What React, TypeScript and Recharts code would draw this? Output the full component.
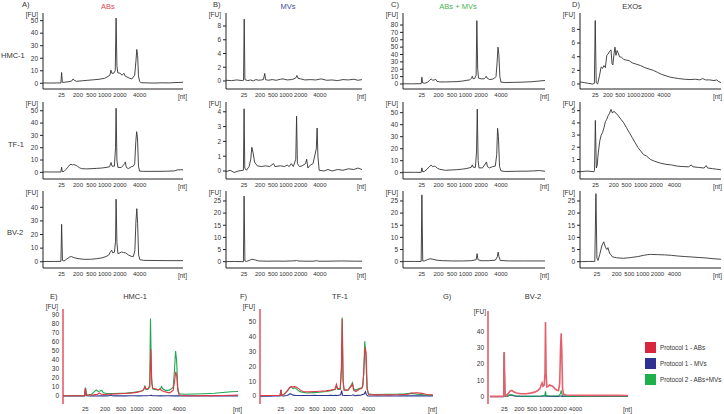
import React from "react"
import { LineChart, Line, XAxis, YAxis } from "recharts"

type Pt = [number, number]

// size ladder labels and where they sit on the migration-time axis (0..100 per panel)
const NT_LABELS = ["25", "200", "500", "1000", "2000", "4000"]
const NT_TICKS = [13.3, 25, 34.5, 44, 55, 69]
const D1_TICKS = [10.8, 19.8, 28.5, 38, 48, 59.5]
const D2_TICKS = [11, 24, 33, 43, 54, 67]
const D3_TICKS = [12, 26, 35, 44.5, 55, 67]
const G_TICKS = [13.5, 27.5, 39.5, 52.5, 66, 80.5]

const FU_50 = [0, 10, 20, 30, 40, 50]
const FU_8 = [0, 2, 4, 6, 8]
const FU_80 = [0, 10, 20, 30, 40, 50, 60, 70, 80]
const FU_4 = [0, 1, 2, 3, 4]
const FU_5 = [0, 1, 2, 3, 4, 5]
const FU_40 = [0, 10, 20, 30, 40]
const FU_25 = [0, 5, 10, 15, 20, 25]
const FU_90 = [0, 10, 20, 30, 40, 50, 60, 70, 80, 90]

// HMC-1
const ABS_HMC1: Pt[] = [[0,0.3],[5,0.2],[10,0.3],[12.8,0.3],[13.3,8.6],[13.8,0.8],[15,0.8],[18,1.2],[20.5,1.8],[21.5,3.5],[22.5,2.2],[24,1.6],[28,2],[32,2.4],[36,2.8],[40,3.2],[44,4],[46.5,5.5],[47.8,6.5],[48.5,10.5],[49.2,8],[50.5,8],[51.6,10],[52.2,52],[52.8,14],[53.4,8.5],[55,8],[56.5,6.5],[57.8,8],[58.5,6],[60,5],[62,4],[63.5,3.5],[64.5,5],[65.5,6.5],[66.4,18],[67,27],[67.6,22],[68.2,6],[69,1.5],[70,0.5],[75,0.3],[80,0.2],[85,0.4],[90,0.3],[95,0.6],[100,0.8],[104,1]]
const MVS_HMC1: Pt[] = [[0,0.1],[4,0.05],[8,0.15],[12,0.05],[12.9,0.1],[13.4,9],[13.9,0.2],[16,0.05],[18,0.15],[20,0],[22,0.2],[24,0.1],[26,0.15],[27.5,0.2],[28.5,1.1],[29.1,0.2],[31,0.1],[34,0.2],[37,0.1],[40,0.25],[42,0.3],[45,0.15],[48,0.2],[50,0.3],[51.6,0.5],[52.2,0.8],[52.9,0.4],[55,0.3],[58,0.15],[62,0.2],[66,0.15],[70,0.3],[74,0.1],[78,0.15],[82,0.05],[86,0.2],[90,0.15],[94,0.25],[97,0.1],[100,0.2],[104,0.1]]
const ABMV_HMC1: Pt[] = [[0,0.3],[6,0.2],[12.8,0.4],[13.3,9.2],[13.8,1.5],[15,1],[17,2],[18.5,4.5],[19.8,6.8],[21,5],[22,5.5],[23.1,6.2],[24,3.5],[26,2.8],[30,2.8],[34,3],[38,3.2],[42,4],[45,5],[47,5.5],[48.3,8],[48.8,10.5],[49.4,7],[50.5,7.5],[51.5,12],[52,86],[52.6,20],[53.2,8],[55,7],[57,7],[58.2,9],[58.6,10.5],[59.2,8],[61,6],[63,6.5],[64.5,8],[65.5,10],[66.3,30],[66.9,50],[67.5,40],[68.2,10],[69,2.5],[72,2],[78,2.2],[84,2.5],[90,3],[95,3.8],[100,4.8],[104,5]]
const EXO_HMC1: Pt[] = [[0,0.3],[3,0.2],[6,0.1],[9,0],[10.2,0.1],[10.8,9.3],[11.5,0.2],[12.5,0],[13.8,1.2],[15,2.5],[16,2.3],[17,2.7],[18,2.4],[19,4.2],[20,4.4],[21,4.8],[22,5],[22.7,3],[23.3,2.8],[24,4.2],[24.8,5.4],[25.5,4.2],[26.3,4.9],[27,4.6],[28,4],[29.5,3.9],[31,3.6],[33,3.5],[35,3.4],[37,3.1],[40,2.9],[43,2.7],[46,2.4],[49,2.2],[52,2],[55,1.7],[58,1.4],[61,1.2],[64,1],[67,0.9],[70,0.8],[74,0.7],[78,0.65],[82,0.7],[85,0.6],[87,0.8],[89,0.6],[92,0.6],[95,0.5],[97,0.6],[98,0.4],[100,0.2]]

// TF-1
const ABS_TF1: Pt[] = [[0,0.3],[8,0.3],[12.8,0.3],[13.3,4.2],[13.8,0.5],[15,0.8],[16.5,2.5],[18,4.5],[19,6],[20,6.5],[21,6],[22,6.3],[23,6],[24.5,5],[26,3.8],[27.5,3],[31,2.8],[35,3],[38,3.2],[42,3.5],[45,4],[47.5,4.5],[48.6,8],[49.3,5],[51,5],[51.8,20],[52.2,52],[52.8,10],[53.5,4],[56,4],[58.3,7],[58.8,8.5],[59.5,4],[61,3],[63,4.5],[64.5,5],[65.5,7],[66.3,25],[66.9,33],[67.5,28],[68.2,5],[69,1],[72,0.8],[80,0.8],[88,0.9],[94,1.2],[96,2],[100,2.1],[103,1.8],[106,1],[110,0.8]]
const MVS_TF1: Pt[] = [[0,-0.05],[3,0.05],[6,-0.1],[9,0],[12.8,0.05],[13.3,4.2],[13.8,0.2],[15,0.05],[17,0.3],[18.2,0.8],[19,1.6],[20,1.2],[21,0.6],[23,0.35],[26,0.3],[29,0.35],[32,0.3],[35,0.5],[36,0.3],[40,0.35],[43,0.3],[45,0.4],[46.5,0.3],[48,0.5],[49.5,0.3],[51.3,0.8],[51.9,3.7],[52.5,0.5],[54,0.3],[56,0.35],[58.5,0.5],[59.3,0.8],[60.2,0.2],[62,0.4],[64,0.5],[66.4,1.5],[67,2.9],[67.6,1],[68.5,0.05],[72,0],[75,0.1],[78,0],[82,0.1],[86,0.05],[90,0.15],[94,0.1],[97,0.2],[100,0.1],[105,0.1],[110,0.1]]
const ABMV_TF1: Pt[] = [[0,0.3],[8,0.3],[12.8,0.3],[13.3,4],[13.8,0.8],[15,1],[17,3],[18.5,5],[19.8,6.3],[21,5],[22,5.5],[23,5],[24.5,3.5],[26,2.8],[30,2],[34,2.3],[38,2.5],[42,3],[45,3.5],[48,4.5],[48.8,6.5],[49.5,4.5],[51,4.5],[51.8,18],[52.3,53],[52.9,10],[53.5,4],[56,4],[58.3,8],[58.8,9],[59.5,5],[61,4],[63,5],[65,5.5],[66,15],[66.6,37],[67.2,30],[68,5],[69,1.5],[72,1],[80,1.2],[88,1.3],[92,1.5],[96,1.8],[100,1.2],[104,0.8],[110,0.5]]
const EXO_TF1: Pt[] = [[0,0],[5,0.05],[10,0],[10.3,0.1],[10.9,4.2],[11.6,0.3],[12.2,0.5],[13,1.6],[14,2.5],[15,3],[16,3.2],[17,3.6],[18,4.1],[19,4.3],[20,4.6],[21,4.8],[22,5.1],[23,4.8],[24,4.95],[25.5,4.8],[27,4.6],[29,4.3],[31,4],[33,3.6],[35,3.2],[37,2.8],[39,2.4],[41,2],[43,1.7],[45,1.4],[47,1.3],[50,1],[53,0.85],[57,0.7],[61,0.6],[65,0.55],[69,0.45],[73,0.42],[77,0.4],[79,0.55],[80,0.4],[84,0.35],[88,0.3],[89.5,0.5],[90.5,0.3],[94,0.25],[97,0.2],[100,0.15]]

// BV-2
const ABS_BV2: Pt[] = [[0,0.2],[8,0.2],[12.8,0.3],[13.3,27.5],[13.9,1],[15,0.5],[17,2],[19,3.5],[20.5,3.8],[22,3],[25,2.3],[29,1.8],[34,1.8],[38,2.2],[42,2.8],[45,3.8],[47,5],[48.3,7.5],[49,8.5],[49.8,6.5],[51,7],[51.8,15],[52.2,46],[52.8,14],[53.5,6],[55,6.5],[56,7.2],[57.5,6.8],[59,6.5],[61,5],[63,4],[64.5,3.8],[65.6,8],[66.4,30],[67,39],[67.6,28],[68.3,5],[69.2,1.5],[72,1],[80,0.9],[90,0.8],[100,0.8],[110,0.9],[120,0.8],[130,0.7]]
const MVS_BV2: Pt[] = [[0,0],[6,0.1],[12.8,0],[13.3,27],[13.9,0.3],[15,0.1],[17,0.5],[19,1],[21,0.8],[24,0.3],[30,0.2],[36,0.25],[42,0.2],[48,0.3],[51.5,0.4],[52,0.7],[52.6,0.3],[58,0.2],[64,0.2],[66.5,0.4],[67,0.5],[67.6,0.2],[75,0.2],[85,0.3],[95,0.2],[100,0.2],[115,0.2],[130,0.2]]
const ABMV_BV2: Pt[] = [[0,0.1],[8,0.1],[12.8,0.1],[13.3,27.5],[13.9,0.3],[15,0.3],[17,0.8],[19,1.2],[21,1],[24,0.6],[28,0.4],[35,0.3],[42,0.3],[48,0.4],[51.5,0.8],[52.2,3.3],[52.8,0.8],[55,0.4],[60,0.4],[65,0.6],[66.4,2],[67,3.9],[67.6,2],[68.5,0.5],[75,0.3],[85,0.3],[95,0.3],[100,0.3],[115,0.3],[130,0.3]]
const EXO_BV2: Pt[] = [[0,0],[6,0.1],[10.5,0.1],[11.3,28],[12,1.5],[12.8,0.5],[14,3],[15.5,6.5],[16.8,8.2],[18,6],[19,5],[19.8,5.8],[21,3.5],[23,2],[26,1.6],[31,1.4],[36,1.7],[41,2.1],[45,2.6],[48,2.9],[50,3],[55,2.9],[60,2.8],[65,2.6],[70,2.3],[75,2.1],[80,1.9],[85,1.7],[90,1.5],[95,1.2],[100,1]]

const TRACE = "#333"
const RED = "#e13846"
const BLUE = "#2b378e"
const GREEN = "#22a652"
const YW = 40
const XH = 14

const toRows = (pts: Pt[]) => pts.map(([x, y]) => ({ x, y }))

interface Series {
    pts: Pt[]
    color: string
    width?: number
}

interface PanelProps {
    x0: number
    x1: number
    y0: number
    y1: number
    yDomain: [number, number]
    yTicks: number[]
    xDomain?: [number, number]
    xTicks?: number[]
    series: Series[]
    overlay?: boolean
}

function Panel({ x0, x1, y0, y1, yDomain, yTicks, xDomain = [0, 100], xTicks = NT_TICKS, series, overlay }: PanelProps) {
    const w = x1 - x0 + YW + 2
    const h = y1 - y0 + XH + 2
    return (
        <div style={{ position: "absolute", left: x0 - YW, top: y0 - 2 }}>
            <LineChart width={w} height={h} margin={{ top: 2, right: 2, bottom: 0, left: 0 }}>
                <XAxis
                    type="number"
                    dataKey="x"
                    domain={xDomain}
                    ticks={xTicks}
                    interval={0}
                    allowDataOverflow
                    tickFormatter={(v: number) => NT_LABELS[xTicks.indexOf(v)] ?? ""}
                    tickLine={false}
                    tickSize={0}
                    tickMargin={overlay ? 3 : 4}
                    axisLine={overlay ? false : { stroke: "#222" }}
                    height={XH}
                    tick={{ fontSize: 6, fill: "#333" }}
                />
                <YAxis
                    type="number"
                    domain={yDomain}
                    ticks={yTicks}
                    interval={0}
                    allowDataOverflow
                    width={YW}
                    tickSize={overlay ? 0 : 3}
                    tickMargin={overlay ? 4 : 2}
                    tickLine={overlay ? false : { stroke: "#222" }}
                    axisLine={{ stroke: overlay ? RED : "#222", strokeWidth: overlay ? 1.3 : 1 }}
                    tick={{ fontSize: 6.5, fill: "#333" }}
                />
                {series.map((s, i) => (
                    <Line
                        key={i}
                        data={toRows(s.pts)}
                        dataKey="y"
                        type="linear"
                        stroke={s.color}
                        strokeWidth={s.width ?? (overlay ? 1.1 : 0.9)}
                        dot={false}
                        activeDot={false}
                        isAnimationActive={false}
                    />
                ))}
            </LineChart>
        </div>
    )
}

function Txt({ x, y, children, color = "#333", size = 8, anchor = "start" }: {
    x: number
    y: number
    children: React.ReactNode
    color?: string
    size?: number
    anchor?: "start" | "middle" | "end"
}) {
    const tx = anchor === "middle" ? "-50%" : anchor === "end" ? "-100%" : "0"
    return (
        <div style={{ position: "absolute", left: x, top: y, transform: `translate(${tx}, -50%)`, fontSize: size, color, whiteSpace: "nowrap", lineHeight: 1 }}>
            {children}
        </div>
    )
}

// plot rectangles: columns and rows of the top grid
const COLS = [[43, 183], [226, 362], [403, 545], [580, 721]]
const ROWS = [[13, 89], [102, 179], [191, 268]]

function Units({ x0, x1, y0, y1, fuX, fuY, ntY }: { x0: number; x1: number; y0: number; y1: number; fuX?: number; fuY?: number; ntY?: number }) {
    return (
        <>
            <Txt x={fuX ?? x0 - 5} y={fuY ?? y0 + 2} size={6.5} anchor="end">[FU]</Txt>
            <Txt x={Math.min(x1 + 4, 722)} y={ntY ?? y1 + 8} size={6.5} anchor="end">[nt]</Txt>
        </>
    )
}

export default function App() {
    const top = [
        [
            { pts: ABS_HMC1, yDomain: [-4.55, 56.1], yTicks: FU_50 },
            { pts: MVS_HMC1, yDomain: [-1.17, 9.9], yTicks: FU_8 },
            { pts: ABMV_HMC1, yDomain: [-6.8, 96.3], yTicks: FU_80 },
            { pts: EXO_HMC1, yDomain: [-0.73, 10.4], yTicks: FU_8, xTicks: D1_TICKS },
        ],
        [
            { pts: ABS_TF1, yDomain: [-5.4, 57.1], yTicks: FU_50 },
            { pts: MVS_TF1, yDomain: [-0.54, 4.66], yTicks: FU_4 },
            { pts: ABMV_TF1, yDomain: [-5.25, 58.9], yTicks: FU_50 },
            { pts: EXO_TF1, yDomain: [-0.6, 5.71], yTicks: FU_5, xTicks: D2_TICKS },
        ],
        [
            { pts: ABS_BV2, yDomain: [-4.6, 52], yTicks: FU_40 },
            { pts: MVS_BV2, yDomain: [-2.6, 29.1], yTicks: FU_25 },
            { pts: ABMV_BV2, yDomain: [-2.6, 29.1], yTicks: FU_25 },
            { pts: EXO_BV2, yDomain: [-2.6, 29.1], yTicks: FU_25, xTicks: D3_TICKS },
        ],
    ]

    return (
        <div style={{ position: "absolute", left: 0, top: 0, width: 724, height: 414, background: "#fff", fontFamily: "'Liberation Sans', Arial, sans-serif", overflow: "hidden" }}>
            <Txt x={22} y={5} size={7.5}>A)</Txt>
            <Txt x={213} y={5} size={7.5}>B)</Txt>
            <Txt x={391} y={5} size={7.5}>C)</Txt>
            <Txt x={572} y={5} size={7.5}>D)</Txt>
            <Txt x={108} y={7} size={7.5} color="#e0464f" anchor="middle">ABs</Txt>
            <Txt x={288} y={7} size={7.5} color="#3a4c9e" anchor="middle">MVs</Txt>
            <Txt x={458} y={7} size={7.5} color="#3fb34f" anchor="middle">ABs + MVs</Txt>
            <Txt x={632} y={7} size={7.5} anchor="middle">EXOs</Txt>
            <Txt x={1} y={56} size={7.5}>HMC-1</Txt>
            <Txt x={8} y={145} size={7.5}>TF-1</Txt>
            <Txt x={7} y={233} size={7.5}>BV-2</Txt>

            {top.map((row, r) =>
                row.map((p, c) => (
                    <React.Fragment key={`${r}-${c}`}>
                        <Panel
                            x0={COLS[c][0]}
                            x1={COLS[c][1]}
                            y0={ROWS[r][0]}
                            y1={ROWS[r][1]}
                            yDomain={p.yDomain as [number, number]}
                            yTicks={p.yTicks}
                            xTicks={p.xTicks ?? NT_TICKS}
                            series={[{ pts: p.pts, color: TRACE }]}
                        />
                        <Units x0={COLS[c][0]} x1={COLS[c][1]} y0={ROWS[r][0]} y1={ROWS[r][1]} />
                    </React.Fragment>
                ))
            )}

            <Txt x={50} y={297} size={7.5}>E)</Txt>
            <Txt x={135} y={297} size={7.5} anchor="middle">HMC-1</Txt>
            <Txt x={240} y={297} size={7.5}>F)</Txt>
            <Txt x={340} y={297} size={7.5} anchor="middle">TF-1</Txt>
            <Txt x={443} y={297} size={7.5}>G)</Txt>
            <Txt x={533} y={297} size={7.5} anchor="middle">BV-2</Txt>

            <Panel x0={63} x1={238} y0={309} y1={404} yDomain={[-8.9, 96.7]} yTicks={FU_90} xDomain={[0, 104]} overlay
                series={[{ pts: MVS_HMC1, color: BLUE }, { pts: ABMV_HMC1, color: GREEN }, { pts: ABS_HMC1, color: RED }]} />
            <Units x0={63} x1={238} y0={309} y1={404} fuY={307} ntY={410} />
            <Panel x0={260} x1={433} y0={309} y1={404} yDomain={[-5.4, 58.8]} yTicks={FU_50} xDomain={[0, 110]} overlay
                series={[{ pts: MVS_TF1, color: BLUE }, { pts: ABMV_TF1, color: GREEN }, { pts: ABS_TF1, color: RED }]} />
            <Units x0={260} x1={433} y0={309} y1={404} fuY={307} ntY={410} />
            <Panel x0={488} x1={628} y0={311} y1={404} yDomain={[-4.5, 52.7]} yTicks={FU_40} xDomain={[-2, 130]} xTicks={G_TICKS} overlay
                series={[{ pts: MVS_BV2, color: BLUE }, { pts: ABMV_BV2, color: GREEN }, { pts: ABS_BV2, color: "#e5606c", width: 1.6 }]} />
            <Units x0={488} x1={628} y0={311} y1={404} fuX={486} fuY={312} ntY={410} />

            {[
                { label: "Protocol 1 - ABs", color: "#d7263d" },
                { label: "Protocol 1 - MVs", color: "#2e3192" },
                { label: "Protocol 2 - ABs+MVs", color: "#1db04b" },
            ].map((l, i) => (
                <React.Fragment key={l.label}>
                    <div style={{ position: "absolute", left: 645, top: 342 + i * 16, width: 11, height: 11, background: l.color }} />
                    <Txt x={660} y={347.5 + i * 16} size={6.3}>{l.label}</Txt>
                </React.Fragment>
            ))}
        </div>
    )
}
